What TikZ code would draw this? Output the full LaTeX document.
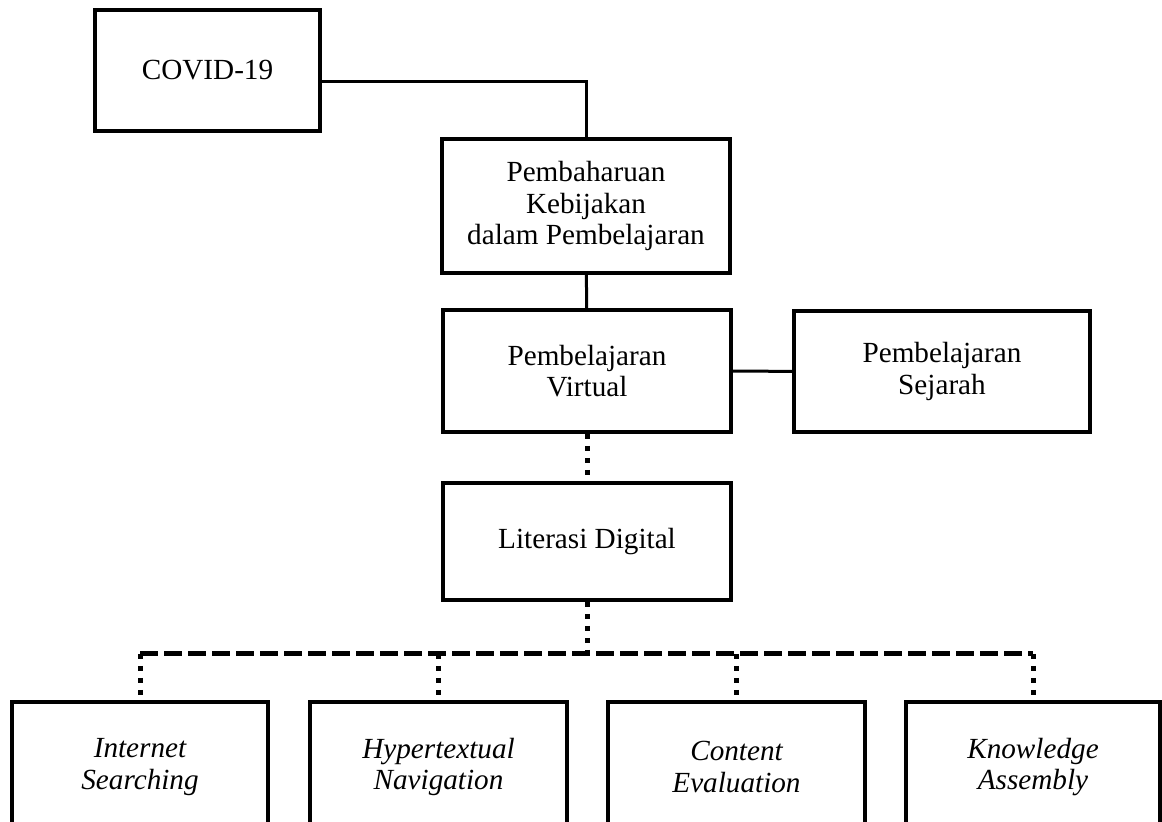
\documentclass[tikz,border=0pt]{standalone}
\usepackage{fontspec}
\setmainfont{Liberation Serif}
\usepackage{tikz}
\usetikzlibrary{positioning}

\begin{document}
\begin{tikzpicture}[x=0.5pt,y=-0.5pt,
	box/.style={draw,line width=2pt,align=center,inner sep=0pt,
		font=\fontsize{14.6}{15.6}\selectfont},
	link/.style={line width=1.5pt},
	dots/.style={line width=2.5pt,dash pattern=on 2.5pt off 3.5pt},
	dashline/.style={line width=2.5pt,dash pattern=on 9pt off 3pt}]
		\useasboundingbox (0,0) rectangle (1162,822);
		\clip (0,0) rectangle (1162,822);
		%
		\node[box,minimum width=112.5pt,minimum height=60.5pt] (C) at (207.5,70.5) {COVID-19};
		\node[box,minimum width=144pt,minimum height=67pt] (P) at (586,206) {Pembaharuan\\Kebijakan\\dalam Pembelajaran};
		\node[box,minimum width=144pt,minimum height=61pt] (V) at (587,371) {Pembelajaran\\Virtual};
		\node[box,minimum width=148pt,minimum height=60.5pt] (S) at (942,371.5) {Pembelajaran\\Sejarah};
		\node[box,minimum width=144pt,minimum height=58.5pt] (L) at (587,541.5) {Literasi Digital};
		%
		\node[box,minimum width=128pt,minimum height=65pt] (I) at (140,767) {\itshape Internet\\\itshape Searching};
		\node[box,minimum width=128.5pt,minimum height=65pt] (H) at (438.5,767) {\itshape Hypertextual\\\itshape Navigation};
		\node[box,minimum width=128.5pt,minimum height=65pt] (E) at (736.5,767) {\itshape Content\\\itshape Evaluation};
		\node[box,minimum width=127pt,minimum height=65pt] (K) at (1033,767) {\itshape Knowledge\\\itshape Assembly};
		%
		\coordinate (h) at (587,654);
		\draw[link] ([yshift=-5.5pt]C.east) -| (P.north);
		\path[link]
		(P) edge (V)
		(V) edge (S);
		\path[dots]
		(V) edge (L)
		(L) edge (h);
		\draw[dashline] (I.north |- h) -- (K.north |- h);
		\foreach \b in {I,H,E,K}
			\draw[dots] (\b.north |- h) -- (\b);
\end{tikzpicture}
\end{document}
